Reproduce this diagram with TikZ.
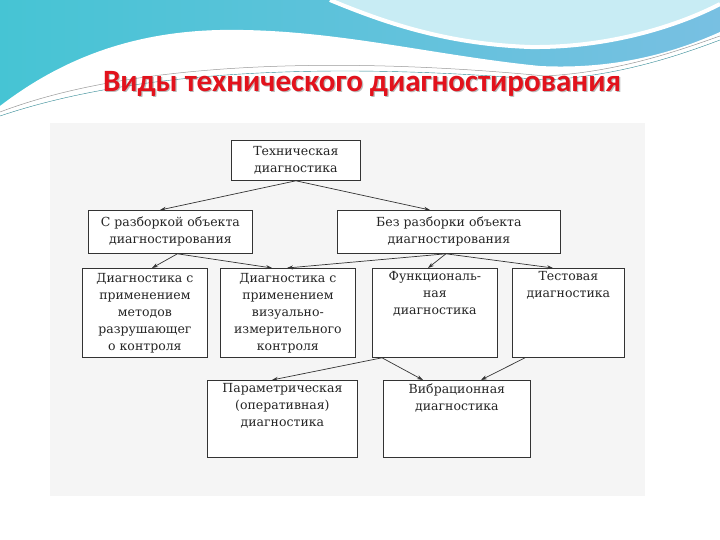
\documentclass[tikz,border=0pt]{standalone}
\usepackage{fontspec}
\setmainfont{DejaVu Serif}
\newfontfamily\titlefont{Carlito}
\usetikzlibrary{arrows.meta}
\definecolor{titlered}{RGB}{226,18,28}
\definecolor{skyA}{RGB}{70,196,212}
\definecolor{skyB}{RGB}{120,192,226}
\definecolor{paleSky}{RGB}{200,236,244}
\definecolor{panel}{RGB}{245,245,245}
\newcommand\boxtxt[4]{\parbox[c][#2][#3]{#1}{\centering\fontsize{12.5}{17}\selectfont #4}}
\begin{document}
\begin{tikzpicture}[x=1pt,y=-1pt,
  box/.style={draw=black!80, line width=0.8pt, fill=white, inner sep=0pt, anchor=north west, text=black!85},
  conn/.style={draw=black!80, line width=0.7pt, -{Stealth[length=6pt,width=4pt]}}]
\useasboundingbox (0,0) rectangle (720,540);
\fill[white] (0,0) rectangle (720,540);
% top decoration
\shade[left color=skyA, right color=skyB] (0,0) rectangle (720,120);
\fill[paleSky] (330,0) .. controls (390,25) and (450,44) .. (530,47) .. controls (610,48) and (680,25) .. (720,4) -- (720,0) -- cycle;
\draw[white, line width=4pt] (330,0) .. controls (390,25) and (450,44) .. (530,47) .. controls (610,48) and (680,25) .. (720,4);
\fill[white] (0,106) .. controls (60,60) and (130,32) .. (220,30) .. controls (330,28) and (430,55) .. (540,66) .. controls (620,70) and (680,50) .. (720,32) -- (720,540) -- (0,540) -- cycle;
\draw[black!40, line width=0.5pt] (0,112) .. controls (150,55) and (380,60) .. (545,76) .. controls (620,72) and (680,50) .. (720,36);
\draw[skyA!70!black, line width=0.4pt] (0,116) .. controls (160,62) and (380,66) .. (545,80) .. controls (620,76) and (680,55) .. (720,40);
% title
\node[font=\titlefont\bfseries\fontsize{31}{33}\selectfont, text=black!60, opacity=0.45] at (363.2,85.2) {Виды технического диагностирования};
\node[font=\titlefont\bfseries\fontsize{31}{33}\selectfont, text=titlered] (title) at (362,84) {Виды технического диагностирования};
% panel
\fill[panel] (50,123) rectangle (645,496);
% boxes
\node[box] (t) at (231,140) {\boxtxt{129pt}{40pt}{c}{Техническая\\диагностика}};
\node[box] (l2) at (88,210) {\boxtxt{164pt}{43pt}{c}{С разборкой объекта\\диагностирования}};
\node[box] (r2) at (337,210) {\boxtxt{223pt}{43pt}{c}{Без разборки объекта\\диагностирования}};
\node[box] (r3a) at (82,268) {\boxtxt{125pt}{89pt}{c}{Диагностика с\\применением\\методов\\разрушающег\\о контроля}};
\node[box] (r3b) at (220,268) {\boxtxt{135pt}{89pt}{c}{Диагностика с\\применением\\визуально-\\измерительного\\контроля}};
\node[box] (r3c) at (372,268) {\boxtxt{125pt}{89pt}{t}{\vspace*{3pt}Функциональ-\\ная\\диагностика}};
\node[box] (r3d) at (512,268) {\boxtxt{112pt}{89pt}{t}{\vspace*{3pt}Тестовая\\диагностика}};
\node[box] (p) at (207,380) {\boxtxt{150pt}{77pt}{t}{\vspace*{3pt}Параметрическая\\(оперативная)\\диагностика}};
\node[box] (v) at (383,380) {\boxtxt{147pt}{77pt}{t}{\vspace*{3pt}Вибрационная\\диагностика}};
% connectors
\draw[conn] (t.south) -- ([xshift=72pt]l2.north west);
\draw[conn] (t.south) -- ([xshift=93pt]r2.north west);
\draw[conn] ([xshift=7pt]l2.south) -- ([xshift=70pt]r3a.north west);
\draw[conn] ([xshift=7pt]l2.south) -- ([xshift=52pt]r3b.north west);
\draw[conn] ([xshift=-3pt]r2.south) -- ([xshift=67pt]r3b.north west);
\draw[conn] ([xshift=-3pt]r2.south) -- ([xshift=56pt]r3c.north west);
\draw[conn] ([xshift=-3pt]r2.south) -- ([xshift=41pt]r3d.north west);
\draw[conn] ([xshift=10pt]r3c.south west) -- ([xshift=65pt]p.north west);
\draw[conn] ([xshift=10pt]r3c.south west) -- ([xshift=40pt]v.north west);
\draw[conn] ([xshift=13pt]r3d.south west) -- ([xshift=98pt]v.north west);
\end{tikzpicture}
\end{document}
